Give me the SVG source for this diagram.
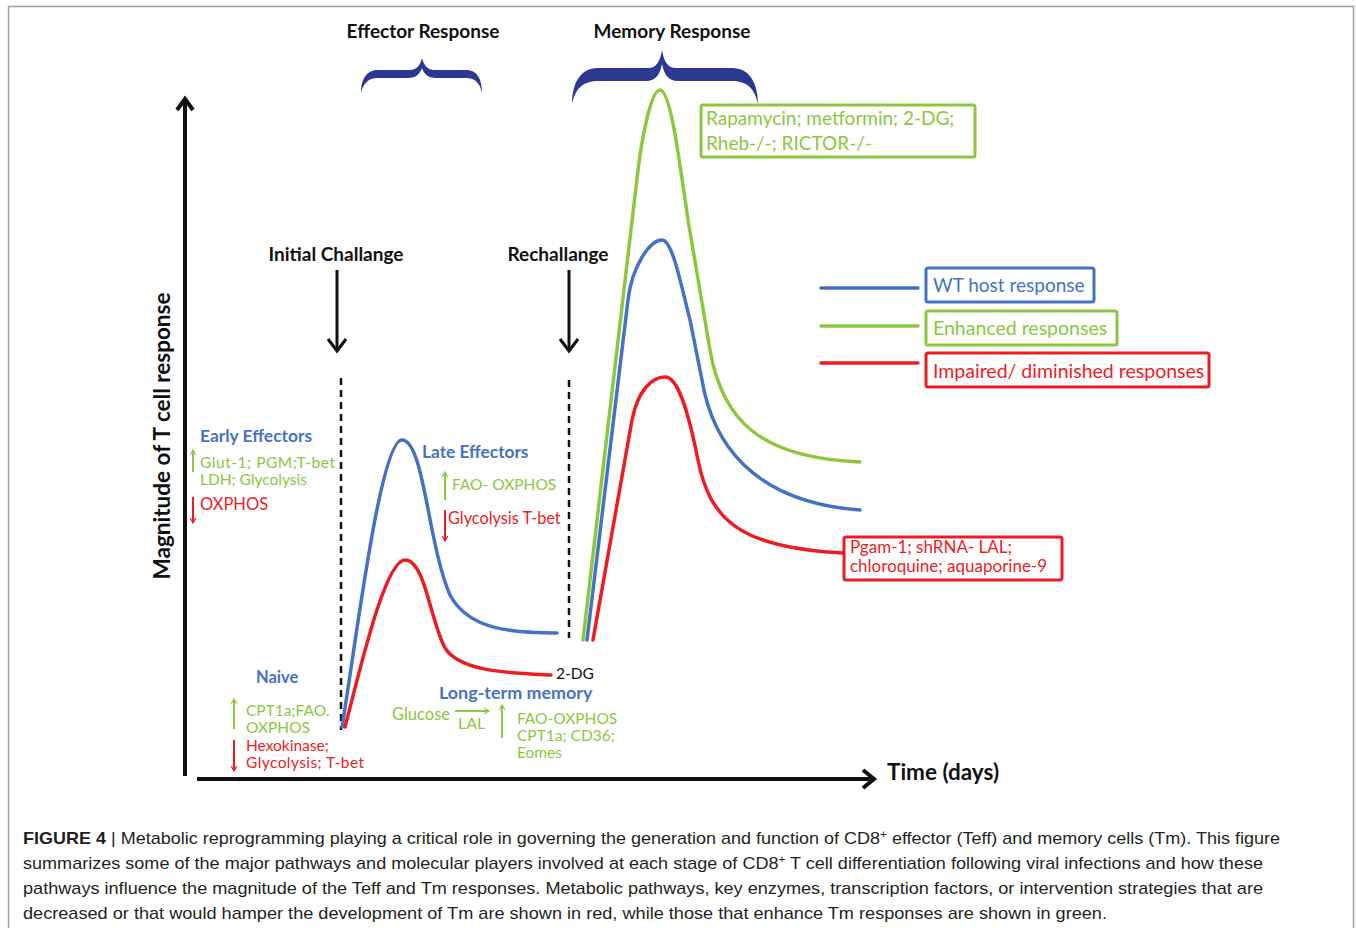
<svg xmlns="http://www.w3.org/2000/svg" width="1356" height="928" viewBox="0 0 1356 928">
<style>
.t{font-family:Lato,"Open Sans","Liberation Sans",sans-serif}
.b{font-weight:bold}
.blk{fill:#111}
.bl{fill:#4472c4}
.gr{fill:#8dc63f}
.rd{fill:#ed1c24}
.cap{font-family:"Liberation Sans",Arial,sans-serif;font-size:17px;fill:#231f20}
.cb{stroke:#4472c4;stroke-width:3.5;fill:none;stroke-linecap:round}
.cg{stroke:#8dc63f;stroke-width:3.5;fill:none;stroke-linecap:round}
.cr{stroke:#ed1c24;stroke-width:3.5;fill:none;stroke-linecap:round}
.sg{stroke:#8dc63f;stroke-width:2;fill:none}
.sr{stroke:#ed1c24;stroke-width:2;fill:none}
.dash{stroke:#111;stroke-width:2.5;stroke-dasharray:7 5;fill:none}
.ax{stroke:#111;stroke-width:4;fill:none}
.dn{stroke:#111;stroke-width:3;fill:none}
.box{fill:#fff;stroke-width:3}
</style>
<defs>
<marker id="mg" viewBox="0 0 10 10" refX="9" refY="5" markerWidth="7" markerHeight="7" markerUnits="userSpaceOnUse" orient="auto"><path d="M2,1 L9,5 L2,9" fill="none" stroke="#8dc63f" stroke-width="1.6"/></marker>
<marker id="mr" viewBox="0 0 10 10" refX="9" refY="5" markerWidth="7" markerHeight="7" markerUnits="userSpaceOnUse" orient="auto"><path d="M2,1 L9,5 L2,9" fill="none" stroke="#ed1c24" stroke-width="1.6"/></marker>
</defs>
<rect width="1356" height="928" fill="#fff"/>
<path d="M8.5,935 V6.5 H1353.5 V935" fill="none" stroke="#a0a0a0" stroke-width="1.5"/>

<g id="connectors">
<path class="ax" d="M185,776 V99"/>
<path class="ax" d="M177,110 L185,99 L193,110"/>
<path class="ax" d="M197,779 H874"/>
<path class="ax" d="M863,770 L874,779 L863,788"/>
<path class="dn" d="M337,270 V350"/>
<path class="dn" d="M328,339 L337,351 L346,339"/>
<path class="dn" d="M569,270 V350"/>
<path class="dn" d="M560,339 L569,351 L578,339"/>
<path class="dash" d="M341,378 V730"/>
<path class="dash" d="M569,380 V638"/>
<path class="cb" d="M342,727 C355,650 380,440 402,440 C424,440 428,545 450,595 C470,632 515,632 557,633"/>
<path class="cr" d="M345,727 C360,670 385,560 405,560 C425,560 430,620 445,648 C460,672 510,673 551,675"/>
<path class="cg" d="M583,640 L638,170 C641,146 650,90 660,90 C670,90 678,150 688,220 L710,350 C722,420 760,458 860,462"/>
<path class="cb" d="M587,640 L628,300 C632,266 650,240 662,240 C672,240 680,280 690,320 L702,380 C712,440 750,502 860,510"/>
<path class="cr" d="M593,640 L632,420 C638,390 652,377 665,377 C678,377 688,410 698,460 C710,520 740,548 843,553"/>
<path class="cb" d="M821,288 H918"/>
<path class="cg" d="M821,326 H918"/>
<path class="cr" d="M821,363 H918"/>
<path class="sg" d="M193,472 V450" marker-end="url(#mg)"/>
<path class="sr" d="M193,497 V523" marker-end="url(#mr)"/>
<path class="sg" d="M445,500 V472" marker-end="url(#mg)"/>
<path class="sr" d="M445,510 V541" marker-end="url(#mr)"/>
<path class="sg" d="M234,729 V699" marker-end="url(#mg)"/>
<path class="sr" d="M234,740 V771" marker-end="url(#mr)"/>
<path class="sg" d="M502,738 V705" marker-end="url(#mg)"/>
<path class="sg" d="M455,711 H489" marker-end="url(#mg)"/>
</g>

<g id="effector-response">
<text class="t b blk" x="423" y="38" font-size="19" text-anchor="middle">Effector Response</text>
<path fill="#2b3990" d="M361,93 C361,80 366,70 378,70 L410,70 C416,70 420,66 422,58 C424,66 428,70 434,70 L466,70 C478,70 482,80 482,93 C480,84 476,78 466,78 L436,78 C428,78 424,74 422,68 C420,74 416,78 408,78 L378,78 C368,78 363,84 361,93 Z"/>
</g>
<g id="memory-response">
<text class="t b blk" x="672" y="38" font-size="19" text-anchor="middle">Memory Response</text>
<path fill="#2b3990" d="M572,104 C572,84 580,68 598,68 L648,68 C656,68 660,62 662,50 C664,62 668,68 676,68 L732,68 C750,68 758,84 758,104 C755,90 748,81 732,81 L678,81 C668,81 664,74 662,64 C660,74 656,81 646,81 L598,81 C582,81 575,90 572,104 Z"/>
</g>

<g id="y-axis-label"><text class="t b blk" font-size="22.5" transform="translate(170,436) rotate(-90)" text-anchor="middle">Magnitude of T cell response</text></g>
<g id="x-axis-label"><text class="t b blk" x="887" y="780" font-size="22.5">Time (days)</text></g>
<g id="initial-challenge"><text class="t b blk" x="336" y="261" font-size="19" text-anchor="middle">Initial Challange</text></g>
<g id="rechallenge"><text class="t b blk" x="558" y="261" font-size="19" text-anchor="middle">Rechallange</text></g>

<g id="enhanced-box">
<rect class="box" x="701" y="105" width="274" height="52" rx="2" stroke="#8dc63f"/>
<text class="t gr" x="706" y="125" font-size="19">Rapamycin; metformin; 2-DG;</text>
<text class="t gr" x="706" y="150" font-size="19">Rheb-/-; RICTOR-/-</text>
</g>

<g id="legend-wt">
<rect class="box" x="926" y="268" width="168" height="34" rx="2" stroke="#4472c4"/>
<text class="t bl" x="933" y="292" font-size="19">WT host response</text>
</g>
<g id="legend-enhanced">
<rect class="box" x="926" y="311" width="191" height="34" rx="2" stroke="#8dc63f"/>
<text class="t gr" x="933" y="335" font-size="19.5">Enhanced responses</text>
</g>
<g id="legend-impaired">
<rect class="box" x="926" y="353" width="283" height="34" rx="2" stroke="#ed1c24"/>
<text class="t rd" x="933" y="378" font-size="19.5">Impaired/ diminished responses</text>
</g>

<g id="impaired-box">
<rect class="box" x="844" y="537" width="218" height="43" rx="2" stroke="#ed1c24"/>
<text class="t rd" x="850" y="553" font-size="17">Pgam-1; shRNA- LAL;</text>
<text class="t rd" x="850" y="572" font-size="17">chloroquine; aquaporine-9</text>
</g>

<g id="early-effectors">
<text class="t b bl" x="200" y="442" font-size="17.4">Early Effectors</text>
<text class="t gr" x="200" y="468" font-size="15.5" textLength="135">Glut-1; PGM;T-bet</text>
<text class="t gr" x="200" y="485" font-size="15.5">LDH; Glycolysis</text>
<text class="t rd" x="200" y="510" font-size="16.5">OXPHOS</text>
</g>

<g id="late-effectors">
<text class="t b bl" x="422" y="458" font-size="17.3">Late Effectors</text>
<text class="t gr" x="452" y="490" font-size="15.5">FAO- OXPHOS</text>
<text class="t rd" x="448" y="524" font-size="16.3">Glycolysis T-bet</text>
</g>

<g id="naive">
<text class="t b bl" x="256" y="683" font-size="16.5">Naive</text>
<text class="t gr" x="246" y="716" font-size="15.5">CPT1a;FAO.</text>
<text class="t gr" x="246" y="733" font-size="15.5">OXPHOS</text>
<text class="t rd" x="246" y="751" font-size="15.5">Hexokinase;</text>
<text class="t rd" x="246" y="768" font-size="15.5" textLength="118">Glycolysis; T-bet</text>
</g>

<g id="two-dg"><text class="t blk" x="556" y="679" font-size="15.5">2-DG</text></g>

<g id="long-term-memory">
<text class="t b bl" x="439" y="699" font-size="17.9">Long-term memory</text>
<text class="t gr" x="392" y="720" font-size="16.5">Glucose</text>
<text class="t gr" x="458" y="729" font-size="16">LAL</text>
<text class="t gr" x="517" y="724" font-size="15.5">FAO-OXPHOS</text>
<text class="t gr" x="517" y="741" font-size="15.5">CPT1a; CD36;</text>
<text class="t gr" x="517" y="758" font-size="15.5">Eomes</text>
</g>

<g id="caption">
<text class="cap" x="23" y="844" textLength="1257" lengthAdjust="spacingAndGlyphs"><tspan font-weight="bold">FIGURE 4</tspan> | Metabolic reprogramming playing a critical role in governing the generation and function of CD8<tspan font-size="11" dy="-6">+</tspan><tspan dy="6"> effector (Teff) and memory cells (Tm). This figure</tspan></text>
<text class="cap" x="23" y="869" textLength="1240" lengthAdjust="spacingAndGlyphs">summarizes some of the major pathways and molecular players involved at each stage of CD8<tspan font-size="11" dy="-6">+</tspan><tspan dy="6"> T cell differentiation following viral infections and how these</tspan></text>
<text class="cap" x="23" y="894" textLength="1240" lengthAdjust="spacingAndGlyphs">pathways influence the magnitude of the Teff and Tm responses. Metabolic pathways, key enzymes, transcription factors, or intervention strategies that are</text>
<text class="cap" x="23" y="919" textLength="1084" lengthAdjust="spacingAndGlyphs">decreased or that would hamper the development of Tm are shown in red, while those that enhance Tm responses are shown in green.</text>
</g>
</svg>
